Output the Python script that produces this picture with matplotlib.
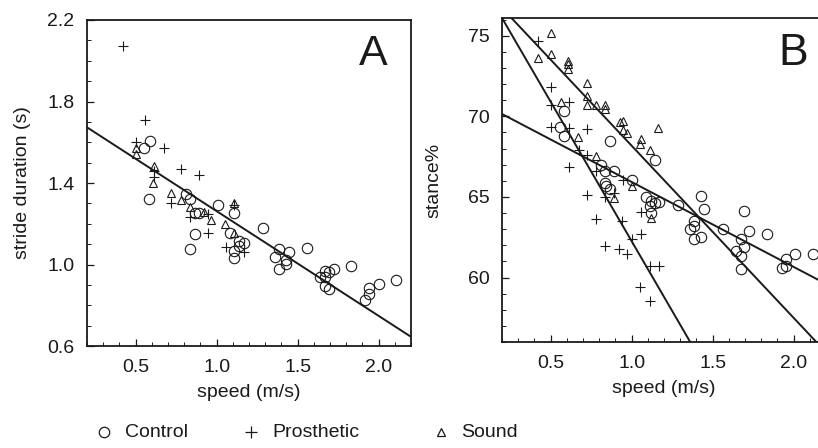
import matplotlib
matplotlib.use("Agg")
import matplotlib.pyplot as plt
import matplotlib.ticker as mticker
from matplotlib.lines import Line2D
import numpy as np

plt.rcParams["font.family"] = ["Liberation Sans", "DejaVu Sans"]

# ── Panel A: stride duration (s) vs speed (m/s) ──────────────────────────────
A_CTRL_X = [0.551, 0.586, 0.582, 0.812, 0.838, 0.865, 0.893, 0.865, 0.838, 1.006,
            1.110, 1.080, 1.141, 1.172, 1.141, 1.110, 1.110, 1.285, 1.385, 1.362,
            1.383, 1.428, 1.426, 1.448, 1.559, 1.641, 1.668, 1.672, 1.668, 1.693,
            1.694, 1.725, 1.828, 1.918, 1.938, 1.940, 2.000, 2.108]
A_CTRL_Y = [1.572, 1.605, 1.320, 1.345, 1.320, 1.255, 1.252, 1.150, 1.077, 1.293,
            1.255, 1.153, 1.114, 1.104, 1.090, 1.065, 1.031, 1.179, 1.077, 1.036,
            0.979, 1.023, 1.003, 1.060, 1.081, 0.938, 0.966, 0.938, 0.894, 0.881,
            0.962, 0.979, 0.995, 0.824, 0.857, 0.884, 0.906, 0.922]

A_PROS_X = [0.422, 0.561, 0.504, 0.674, 0.612, 0.783, 0.893, 0.721, 0.838, 0.950,
            0.947, 1.110, 1.059, 1.172, 0.612]
A_PROS_Y = [2.072, 1.707, 1.600, 1.572, 1.430, 1.467, 1.437, 1.304, 1.234, 1.247,
            1.154, 1.290, 1.088, 1.060, 1.460]

A_SND_X = [0.504, 0.504, 0.612, 0.609, 0.721, 0.783, 0.838, 0.924, 0.965, 1.110,
           1.053, 1.110]
A_SND_Y = [1.572, 1.543, 1.483, 1.400, 1.353, 1.316, 1.280, 1.260, 1.218, 1.304,
           1.198, 1.153]

A_FIT = (1.776, -0.514)  # intercept, slope

# ── Panel B: stance% vs speed (m/s) ──────────────────────────────────────────
B_CTRL_X = [0.582, 0.556, 0.582, 0.864, 1.144, 0.809, 0.835, 0.891, 1.004, 0.835,
            0.840, 0.864, 1.086, 1.426, 1.117, 1.144, 1.168, 1.117, 1.113, 1.288,
            1.446, 1.385, 1.385, 1.360, 1.385, 1.426, 1.566, 1.693, 1.724, 1.838,
            1.673, 1.642, 1.693, 1.673, 1.673, 1.926, 1.951, 1.951, 2.008, 2.120]
B_CTRL_Y = [70.31, 69.32, 68.76, 68.45, 67.27, 66.96, 66.59, 66.59, 66.08, 65.87,
            65.66, 65.52, 64.98, 65.04, 64.73, 64.63, 64.67, 64.01, 64.42, 64.53,
            64.22, 63.49, 63.18, 62.98, 62.40, 62.50, 63.02, 64.11, 62.87, 62.71,
            62.40, 61.63, 61.90, 61.32, 60.54, 60.60, 60.74, 61.16, 61.47, 61.47]

B_PROS_X = [0.424, 0.500, 0.500, 0.613, 0.500, 0.613, 0.722, 0.675, 0.722, 0.613,
            0.778, 0.946, 0.722, 0.891, 0.835, 0.782, 0.942, 0.835, 0.922, 0.973,
            1.000, 1.056, 1.056, 1.113, 1.168, 1.051, 1.113]
B_PROS_Y = [74.65, 71.82, 70.73, 70.89, 69.32, 69.28, 69.24, 67.94, 67.58, 66.86,
            66.59, 66.03, 65.15, 65.25, 65.00, 63.64, 63.49, 61.94, 61.74, 61.43,
            62.36, 62.73, 64.07, 60.74, 60.74, 59.40, 58.53]

B_SND_X = [0.500, 0.424, 0.500, 0.609, 0.609, 0.609, 0.722, 0.722, 0.722, 0.778,
           0.833, 0.833, 0.562, 0.671, 0.928, 0.946, 0.946, 0.973, 1.056, 1.051,
           1.113, 1.165, 0.782, 1.000, 0.891, 1.117]
B_SND_Y = [75.17, 73.62, 73.87, 73.45, 73.25, 72.94, 72.07, 71.28, 70.68, 70.73,
           70.73, 70.46, 70.89, 68.72, 69.65, 69.69, 69.18, 68.97, 68.60, 68.31,
           67.89, 69.28, 67.52, 65.66, 64.94, 63.70]

B_FITS = [(71.20, -5.27),    # Control
          (78.86, -10.68),   # Sound
          (79.56, -17.30)]   # Prosthetic

X_TICKS = [0.5, 1.0, 1.5, 2.0]
A_YTICKS = [0.6, 1.0, 1.4, 1.8, 2.2]
B_YTICKS = [60, 65, 70, 75]

INK = "#1a1a1a"
FS = 14


def scatter_groups(ax, ctrl, pros, snd):
    ax.plot(*ctrl, ls="none", marker="o", ms=7.5, mfc="none", mec=INK, mew=0.8, zorder=3)
    ax.plot(*pros, ls="none", marker="+", ms=6.5, mec=INK, mew=0.8, zorder=3)
    ax.plot(*snd, ls="none", marker="^", ms=5.5, mfc="none", mec=INK, mew=0.8, zorder=3)


def style_axis(ax, ymin, ymax, yticks, ymajor_fmt, yminor):
    ax.set_xlim(0.2, 2.2)
    ax.set_ylim(ymin, ymax)
    ax.set_xticks(X_TICKS)
    ax.set_yticks(yticks)
    ax.xaxis.set_minor_locator(mticker.MultipleLocator(0.1))
    ax.yaxis.set_minor_locator(mticker.MultipleLocator(yminor))
    ax.yaxis.set_major_formatter(mticker.FormatStrFormatter(ymajor_fmt))
    ax.xaxis.set_major_formatter(mticker.FormatStrFormatter("%.1f"))
    ax.tick_params(which="both", direction="in", top=False, right=False,
                   labelsize=FS, colors=INK, pad=9)
    ax.tick_params(which="major", length=5, width=0.9)
    ax.tick_params(which="minor", length=3, width=0.7)
    for sp in ax.spines.values():
        sp.set_linewidth(1.3)
        sp.set_color(INK)
    ax.set_xlabel("speed (m/s)", fontsize=FS, color=INK, labelpad=6)


fig = plt.figure(figsize=(8.18, 4.48), dpi=100)

# ── Panel A ──────────────────────────────────────────────────────────────────
axA = fig.add_axes([87 / 818, 1 - 346 / 448, 324 / 818, 326 / 448])
scatter_groups(axA, (A_CTRL_X, A_CTRL_Y), (A_PROS_X, A_PROS_Y), (A_SND_X, A_SND_Y))
xs = np.array([0.2, 2.2])
axA.plot(xs, A_FIT[0] + A_FIT[1] * xs, color=INK, lw=1.4, zorder=2)
style_axis(axA, 0.6, 2.2, A_YTICKS, "%.1f", 0.1)
axA.set_ylabel("stride duration (s)", fontsize=FS, color=INK, labelpad=12)
axA.text(0.884, 0.895, "A", transform=axA.transAxes, fontsize=31, color=INK,
         ha="center", va="center")

# ── Panel B (runs past the right edge of the figure) ─────────────────────────
axB = fig.add_axes([502 / 818, 1 - 342 / 448, 324 / 818, 324 / 448])
scatter_groups(axB, (B_CTRL_X, B_CTRL_Y), (B_PROS_X, B_PROS_Y), (B_SND_X, B_SND_Y))
for b0, b1 in B_FITS:
    axB.plot(xs, b0 + b1 * xs, color=INK, lw=1.4, zorder=2)
style_axis(axB, 56.0, 76.1, B_YTICKS, "%d", 1)
axB.set_ylabel("stance%", fontsize=FS, color=INK, labelpad=18)
axB.text(0.90, 0.89, "B", transform=axB.transAxes, fontsize=32, color=INK,
         ha="center", va="center")

# ── Legend row ───────────────────────────────────────────────────────────────
legend_items = [("o", 7.5, "Control", 104, 125),
                ("+", 8, "Prosthetic", 251, 272),
                ("^", 6, "Sound", 441, 461)]
ly = 1 - 432 / 448
for mk, ms, label, mx, tx in legend_items:
    fig.add_artist(Line2D([mx / 818], [ly], marker=mk, ms=ms, mfc="none",
                          mec=INK, mew=0.9, ls="none", transform=fig.transFigure))
    fig.text(tx / 818, ly, label, fontsize=FS, color=INK, ha="left", va="center")

fig.savefig("out.png", dpi=100, facecolor="white")
